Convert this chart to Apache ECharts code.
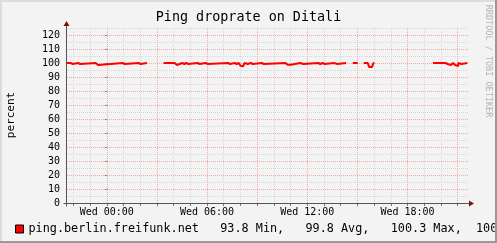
<!DOCTYPE html>
<html><head><meta charset="utf-8">
<script src="https://cdn.jsdelivr.net/npm/echarts@6/dist/echarts.min.js"></script>
<style>html,body{margin:0;padding:0;background:#F3F3F3}#c{width:497px;height:243px}</style>
</head><body><div id="c"></div><script>
// ---- data ----
const chartTitle = 'Ping droprate on Ditali';
const yAxisName = 'percent';
const seriesName = 'ping.berlin.freifunk.net';
const statValues = ['93.8', '99.8', '100.3', '100.0'];
const statNames = ['Min,', 'Avg,', 'Max,', 'Last'];
const xLabelHours = [0, 6, 12, 18];
const xTickLabels = ['Wed 00:00', 'Wed 06:00', 'Wed 12:00', 'Wed 18:00'];
const xMinorHours = [-2,-1,0,1,2,3,4,5,6,7,8,9,10,11,12,13,14,15,16,17,18,19,20,21];
const xMajorHours = [0,3,6,9,12,15,18,21];
const yTickValues = [0,10,20,30,40,50,60,70,80,90,100,110,120];
const yMinorValues = [5,15,25,35,45,55,65,75,85,95,105,115,125];
// hours relative to Wed 00:00
const baseValue = 100;
const segStart = [-2.38, 3.40, 14.72, 15.38, 19.52];
const segEnd   = [ 2.40, 14.32, 15.02, 16.02, 21.58];
const dipStart = [-2.16, -1.72, -0.66, 0.96, 1.90,
  4.06, 4.52, 4.76, 5.44, 5.92, 7.26, 7.66, 7.90, 8.00, 8.08, 8.16, 8.32, 8.62, 9.28,
  10.70, 10.90, 11.58, 12.66, 12.92, 13.60,
  15.62, 15.70, 15.88,
  20.28, 20.48, 20.72, 20.92, 21.12];
const dipEnd = [-2.04, -1.60, -0.52, 1.08, 2.02,
  4.20, 4.64, 4.88, 5.56, 6.04, 7.38, 7.78, 8.00, 8.08, 8.16, 8.24, 8.44, 8.74, 9.40,
  10.82, 11.02, 11.76, 12.78, 13.04, 13.80,
  15.70, 15.88, 15.96,
  20.40, 20.60, 20.84, 21.04, 21.24];
const dipValue = [99.3, 99.3, 98.6, 99.3, 99.3,
  98.6, 99.3, 99.3, 99.3, 99.3, 99.3, 99.3, 99.0, 98.0, 97.6, 98.6, 99.3, 99.3, 99.3,
  98.8, 98.8, 99.3, 99.3, 99.3, 99.3,
  98.6, 97.2, 98.6,
  99.3, 98.6, 98.6, 97.9, 99.3];
// ---- build series data (step pulses, null between segments) ----
const lineData = [];
segStart.forEach((s, k) => {
  const e = segEnd[k];
  lineData.push([s, baseValue]);
  dipStart.forEach((ds, i) => {
    if (ds >= s && ds <= e) {
      if (i === 0 || dipEnd[i - 1] !== ds) lineData.push([ds, baseValue]);
      lineData.push([ds, dipValue[i]], [dipEnd[i], dipValue[i]]);
      if (i === dipStart.length - 1 || dipStart[i + 1] !== dipEnd[i]) lineData.push([dipEnd[i], baseValue]);
    }
  });
  lineData.push([e, baseValue]);
  lineData.push([e + 0.01, null]);
});
// ---- layout ----
const G = {left: 67, top: 28, width: 401, height: 175};
const FONT = 'DejaVu Sans Mono';
const MINOR = '#D9D9D9', MAJOR = '#ECAAAA';
const chart = echarts.init(document.getElementById('c'), null, {renderer: 'canvas'});
const legendText = seriesName + '   ' + statValues[0] + ' ' + statNames[0] + '   ' + statValues[1] + ' ' + statNames[1] +
  '   ' + statValues[2] + ' ' + statNames[2] + '  ' + statValues[3] + ' ' + statNames[3];
const ax = G.left - 0.5, ay = G.top + G.height + 0.5;
chart.setOption({
  animation: false,
  backgroundColor: '#F3F3F3',
  title: {text: chartTitle, left: 'center', top: 11, padding: 0,
    textStyle: {fontFamily: FONT, fontSize: 13.4, fontWeight: 'normal', color: '#000'}},
  legend: {left: 15, top: 223, padding: 0, icon: 'rect', itemWidth: 8, itemHeight: 8,
    itemStyle: {borderColor: '#000', borderWidth: 1},
    textStyle: {fontFamily: FONT, fontSize: 11.8, color: '#000'},
    formatter: () => legendText, data: [seriesName]},
  grid: {left: G.left, top: G.top, width: G.width, height: G.height, containLabel: false},
  xAxis: [
    {type: 'value', min: -2.38, max: 21.62, axisLine: {show: false},
      axisTick: {show: true, customValues: xMinorHours, length: 3, lineStyle: {color: '#777'}},
      axisLabel: {customValues: xLabelHours, margin: 4, fontFamily: FONT, fontSize: 10, color: '#000',
        formatter: v => xTickLabels[xLabelHours.indexOf(Math.round(v))] || ''},
      splitLine: {show: true, lineStyle: {color: MINOR, type: [1, 1], width: 1}}},
    {type: 'value', min: -2.38, max: 21.62, axisLine: {show: false},
      axisTick: {show: false, customValues: xMajorHours}, axisLabel: {show: false},
      splitLine: {show: true, lineStyle: {color: MAJOR, type: [1, 1], width: 1}}}
  ],
  yAxis: [
    {type: 'value', min: 0, max: 125, axisLine: {show: false},
      axisTick: {show: false, customValues: yMinorValues}, axisLabel: {show: false},
      splitLine: {show: true, lineStyle: {color: MINOR, type: [1, 1], width: 1}}},
    {type: 'value', min: 0, max: 125, position: 'left', axisLine: {show: false},
      axisTick: {show: true, customValues: yTickValues, length: 2, lineStyle: {color: '#777'}},
      axisLabel: {customValues: yTickValues, margin: 7, fontFamily: FONT, fontSize: 10, color: '#000'},
      splitLine: {show: true, lineStyle: {color: MAJOR, type: [1, 1], width: 1}}}
  ],
  series: [{
    name: seriesName, type: 'line', showSymbol: false, connectNulls: false,
    xAxisIndex: 0, yAxisIndex: 1, color: '#FF0000', z: 5,
    lineStyle: {color: '#FF0000', width: 2, join: 'bevel'},
    data: lineData
  }],
  graphic: [
    {type: 'text', x: 11, y: 115, rotation: Math.PI / 2,
      style: {text: yAxisName, fontFamily: FONT, fontSize: 11, fill: '#000', align: 'center', verticalAlign: 'middle'}},
    {type: 'text', x: 488, y: 61, rotation: -Math.PI / 2,
      style: {text: 'RRDTOOL / TOBI OETIKER', fontFamily: FONT, fontSize: 8.5, fill: '#B4B4B4', align: 'center', verticalAlign: 'middle'}},
    {type: 'line', z: 10, shape: {x1: ax, y1: ay + 3, x2: ax, y2: G.top - 4}, style: {stroke: '#555', lineWidth: 1}},
    {type: 'line', z: 10, shape: {x1: ax - 3, y1: ay, x2: G.left + G.width + 1, y2: ay}, style: {stroke: '#555', lineWidth: 1}},
    {type: 'polygon', z: 11, shape: {points: [[ax, G.top - 7], [ax - 3, G.top - 2], [ax + 3, G.top - 2]]}, style: {fill: '#7F1010'}},
    {type: 'polygon', z: 11, shape: {points: [[G.left + G.width + 6, ay], [G.left + G.width + 1, ay - 3], [G.left + G.width + 1, ay + 3]]}, style: {fill: '#7F1010'}},
    {type: 'rect', z: 20, shape: {x: 0, y: 0, width: 497, height: 2}, style: {fill: '#DCDCDC'}},
    {type: 'rect', z: 20, shape: {x: 0, y: 0, width: 2, height: 243}, style: {fill: '#DCDCDC'}},
    {type: 'rect', z: 20, shape: {x: 0, y: 241, width: 497, height: 2}, style: {fill: '#999'}},
    {type: 'rect', z: 20, shape: {x: 495, y: 0, width: 2, height: 243}, style: {fill: '#999'}}
  ]
});
</script></body></html>
